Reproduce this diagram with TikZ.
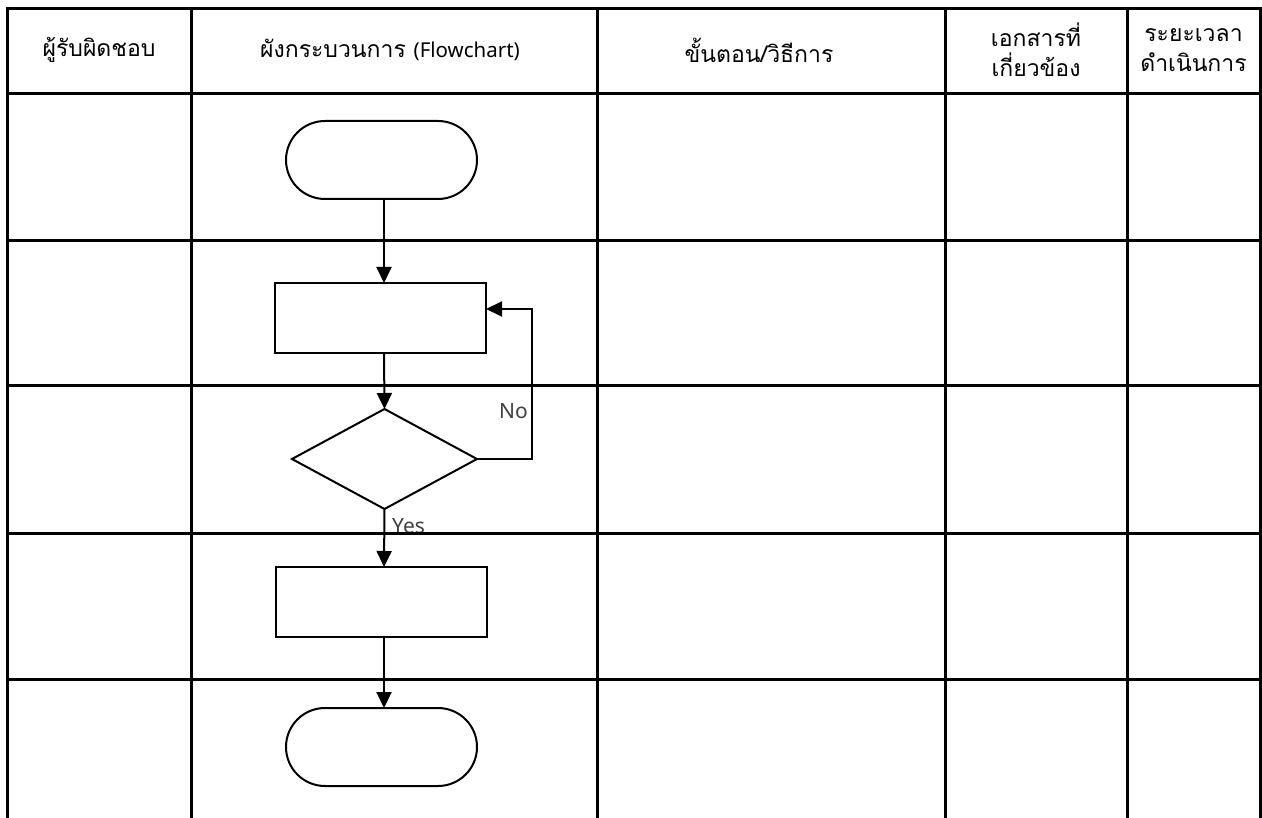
\documentclass[tikz,border=0pt]{standalone}
\usepackage{fontspec}
\setmainfont{Noto Sans}
\newfontfamily\thai[Script=Thai]{Loma}
\usetikzlibrary{shapes.geometric,arrows.meta}
\begin{document}
\begin{tikzpicture}[x=1pt,y=-1pt,
  gridline/.style={line width=3pt, line cap=rect},
  shp/.style={draw, line width=2pt, inner sep=0pt, outer sep=0pt},
  term/.style={shp, rectangle, rounded corners=39pt, minimum width=191pt, minimum height=78pt},
  proc/.style={shp, rectangle, minimum width=211pt, minimum height=70pt},
  dec/.style={shp, diamond, minimum width=185pt, minimum height=100pt},
  arr/.style={line width=2pt, -{Triangle[length=16pt,width=15pt]}},
  hdr/.style={font=\thai\fontsize{23}{30}\selectfont, align=center, inner sep=0pt},
  lbl/.style={font=\fontsize{21}{24}\selectfont, text=black!75, inner sep=0pt}]
\useasboundingbox (0,0) rectangle (1262,818);
\fill[white] (0,0) rectangle (1262,818);
\clip (0,0) rectangle (1262,818);

% header texts
\node[hdr] (h1) at (99,50) {ผู้รับผิดชอบ};
\node[hdr] (h2) at (390,50) {ผังกระบวนการ {\rmfamily\fontsize{20.5}{30}\selectfont (Flowchart)}};
\node[hdr] (h3) at (759,50) {ขั้นตอน/วิธีการ};
\node[hdr] (h4) at (1036,50) {เอกสารที่\\เกี่ยวข้อง};
\node[hdr] (h5) at (1193.5,50) {ระยะเวลา\\ดำเนินการ};

% flowchart
\coordinate (cx) at (384,0);
\node[term] (start) at (381.5,160) {};
\node[proc] (p1) at (380.5,318) {};
\node[dec] (d1) at (384.5,459) {};
\node[proc] (p2) at (381.5,602) {};
\node[term] (stop) at (381.5,747) {};

\draw[arr] (start.south -| cx) -- (p1.north -| cx);
\draw[arr] (p1.south -| cx) -- (d1.north);
\draw[arr] (d1.south) -- (p2.north -| cx);
\draw[arr] (p2.south -| cx) -- (stop.north -| cx);

\coordinate (lb) at (532,459);
\coordinate (lt) at (532,309);
\draw[arr] (d1.east) -- (lb) -- (lt) -- (lt -| p1.east);

\node[lbl, anchor=base east] (no) at (528,418) {No};
\node[lbl, anchor=base west] (yes) at (392,533) {Yes};

% table grid
\draw[gridline] (7,830) -- (7,9) -- (1260,9) -- (1260,830);
\foreach \yy in {94,241,386,533,679} \draw[gridline] (7,\yy) -- (1260,\yy);
\foreach \xx in {191,597,945,1127} \draw[gridline] (\xx,9) -- (\xx,830);
\end{tikzpicture}
\end{document}
